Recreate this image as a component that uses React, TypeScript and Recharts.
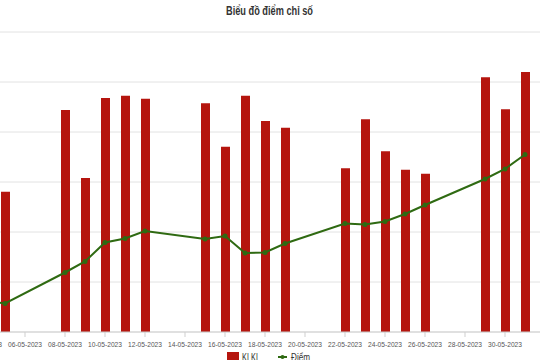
import React from 'react'
import { ComposedChart, Bar, Line, XAxis, YAxis, CartesianGrid, Legend } from 'recharts'

const dates = [
  '04-05-2023', '05-05-2023', '06-05-2023', '07-05-2023', '08-05-2023', '09-05-2023', '10-05-2023',
  '11-05-2023', '12-05-2023', '13-05-2023', '14-05-2023', '15-05-2023', '16-05-2023', '17-05-2023',
  '18-05-2023', '19-05-2023', '20-05-2023', '21-05-2023', '22-05-2023', '23-05-2023', '24-05-2023',
  '25-05-2023', '26-05-2023', '27-05-2023', '28-05-2023', '29-05-2023', '30-05-2023', '31-05-2023',
]

// khoi luong khop lenh (trieu cp), null = ngay nghi
const klkl = [
  null, 561, null, null, 888, 616, 936,
  945, 933, null, null, 915, 741, 945,
  844, 817, null, null, 655, 851, 723,
  649, 633, null, null, 1019, 891, 1040,
]

const diem = [
  1046.3, 1045.7, null, null, 1051.9, 1054.1, 1057.9,
  1058.7, 1060.2, null, null, 1058.6, 1059.2, 1055.8,
  1055.9, 1057.7, null, null, 1061.7, 1061.5, 1062.1,
  1063.6, 1065.4, null, null, 1070.6, 1072.6, 1075.5,
]

const data = dates.map((d, i) => ({ date: d, KLKL: klkl[i], 'Điểm': diem[i] }))

const font = '"Liberation Sans", Arial, sans-serif'
const red = '#b5150e'
const green = '#2f6a12'

// chu hep giong font condensed cua anh goc
const DateTick = (props: any) => {
  const { x, y, payload } = props
  return (
    <text x={x} y={y + 7} textAnchor="middle" fontSize={8} fill="#555" fontFamily={font}
      textLength={34} lengthAdjust="spacingAndGlyphs">
      {payload.value}
    </text>
  )
}

// legend nam trong chart (dich trai 40px, wrapper lech them 15px)
const LegendBox = () => (
  <svg width={580} height={14} style={{ display: 'block' }}>
    <rect x={252} y={2} width={12} height={12} fill={red} />
    <text x={267} y={11} fontSize={11} fill="#333" fontFamily={font} textLength={18} lengthAdjust="spacingAndGlyphs">KLKL</text>
    <line x1={303} y1={7} x2={312} y2={7} stroke={green} strokeWidth={2} />
    <circle cx={307.5} cy={7} r={2} fill={green} />
    <text x={316} y={11} fontSize={11} fill="#333" fontFamily={font} textLength={19} lengthAdjust="spacingAndGlyphs">Điểm</text>
  </svg>
)

export default function App() {
  return (
    <div style={{ position: 'absolute', left: 0, top: 0, width: 540, height: 360, overflow: 'hidden', background: '#fff' }}>
      <svg width={540} height={22} style={{ position: 'absolute', left: 0, top: 0 }}>
        <text x={226} y={15} fontSize={13} fontWeight="bold" fill="#333" fontFamily={font}
          textLength={87} lengthAdjust="spacingAndGlyphs">
          Biểu đồ điểm chỉ số
        </text>
      </svg>
      <div style={{ position: 'absolute', left: -40, top: 0 }}>
        <ComposedChart
          width={595}
          height={364}
          data={data}
          margin={{ top: 32, right: 0, left: 15, bottom: 0 }}
        >
          <CartesianGrid yAxisId="vol" vertical={false} stroke="#e2e2e2" />
          <XAxis
            dataKey="date"
            interval={1}
            height={18}
            padding={{ left: 0, right: 20 }}
            tick={<DateTick />}
            tickSize={5}
            tickMargin={3}
            axisLine={{ stroke: '#cfcfcf' }}
            tickLine={{ stroke: '#cfcfcf' }}
          />
          <YAxis yAxisId="vol" hide domain={[0, 1200]} tickCount={7} />
          <YAxis yAxisId="idx" hide orientation="right" domain={[1040, 1100]} />
          <Legend verticalAlign="bottom" height={14} content={() => <LegendBox />} />
          <Bar yAxisId="vol" dataKey="KLKL" fill={red} barSize={9} isAnimationActive={false} />
          <Line
            yAxisId="idx"
            type="linear"
            dataKey="Điểm"
            stroke={green}
            strokeWidth={2}
            dot={{ r: 1.5, fill: green, stroke: green }}
            connectNulls
            isAnimationActive={false}
          />
        </ComposedChart>
      </div>
    </div>
  )
}
